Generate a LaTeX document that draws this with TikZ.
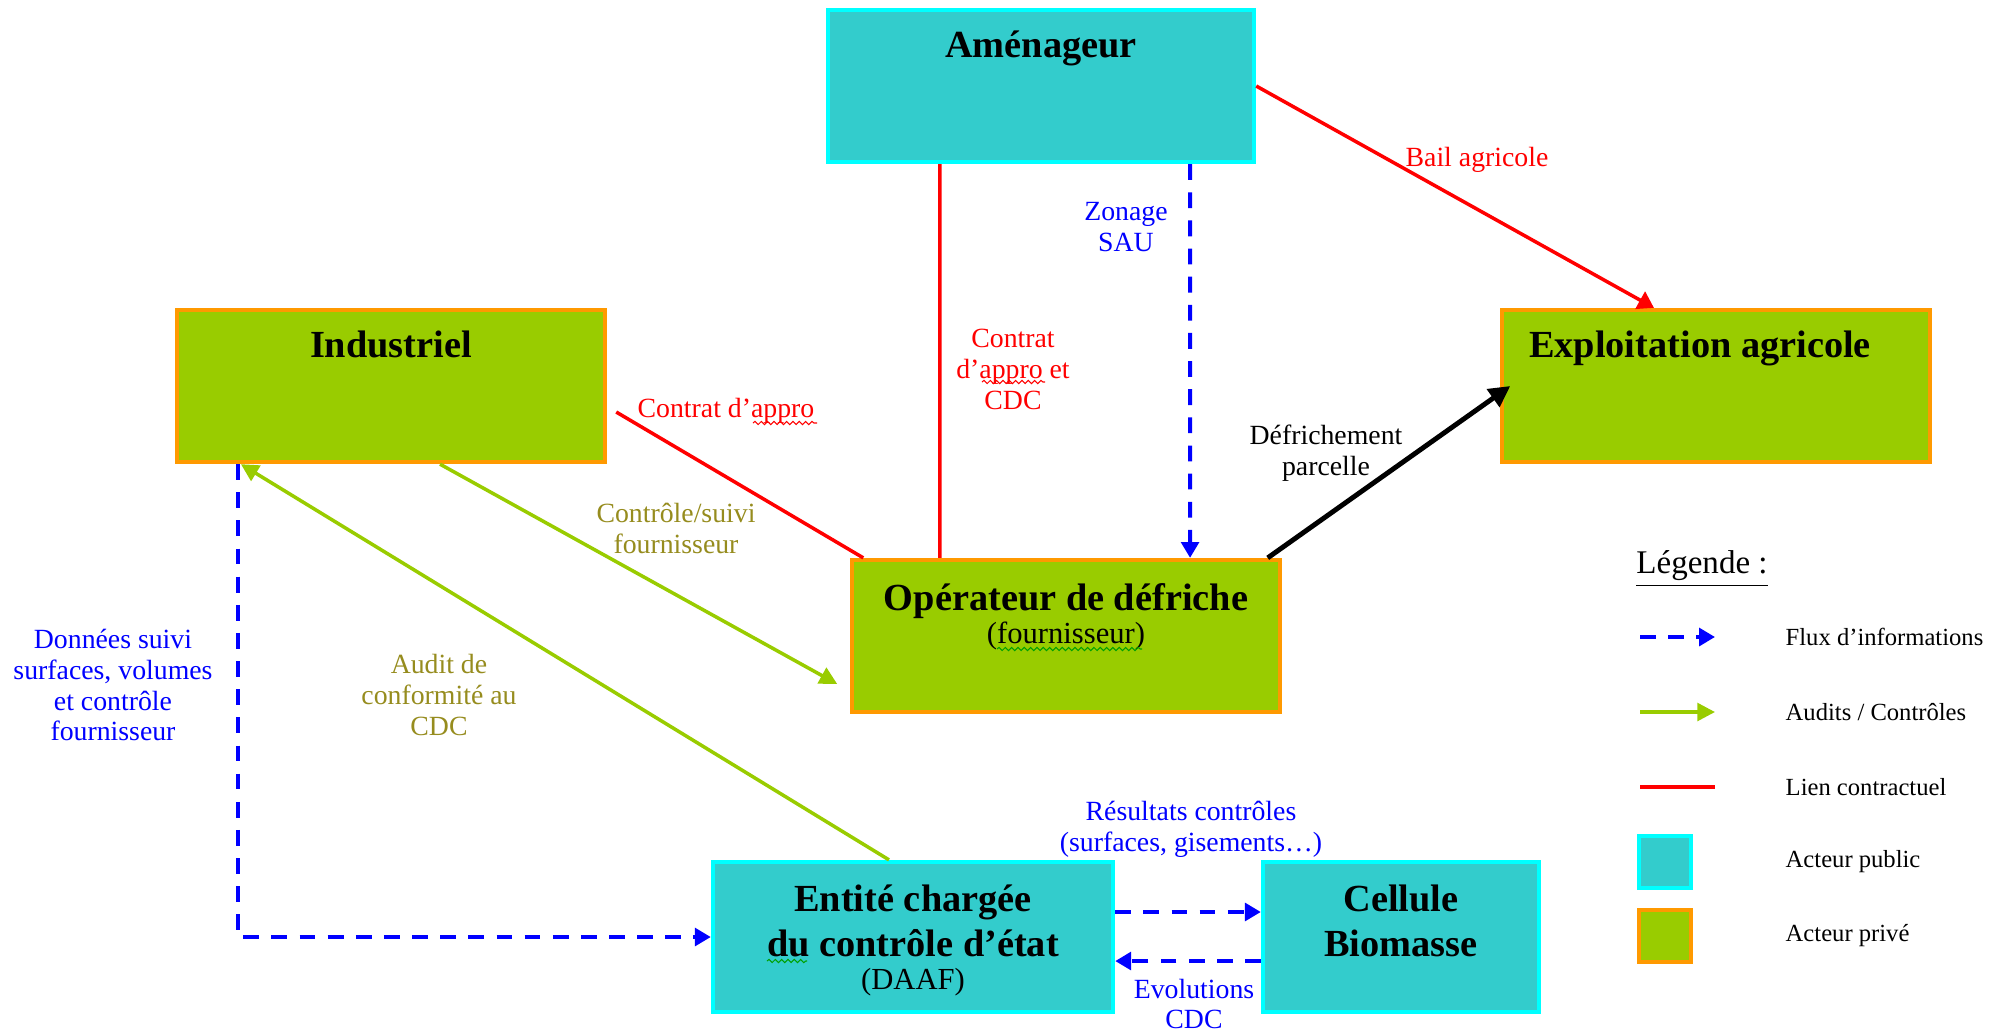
\documentclass[tikz,border=0pt]{standalone}
\usepackage{fontspec}
\setmainfont{Liberation Serif}
\usetikzlibrary{arrows.meta,positioning,decorations.pathmorphing}
\definecolor{pubfill}{RGB}{51,204,204}
\definecolor{publine}{RGB}{0,255,255}
\definecolor{privfill}{RGB}{153,204,0}
\definecolor{privline}{RGB}{255,153,0}
\definecolor{olivetxt}{RGB}{150,140,30}
\definecolor{spellgreen}{RGB}{0,160,0}
\tikzset{
    pubbox/.style={draw=publine,fill=pubfill,line width=1.2pt,inner sep=0pt},
    privbox/.style={draw=privline,fill=privfill,line width=1.2pt,inner sep=0pt},
    titre/.style={font=\fontsize{10.9}{12.8}\selectfont\bfseries,align=center,inner sep=0pt},
    sous/.style={font=\fontsize{8.7}{10}\selectfont,inner sep=0pt},
    lbl/.style={font=\fontsize{7.9}{8.8}\selectfont,align=center,inner sep=0pt},
    leg/.style={font=\fontsize{7}{8}\selectfont,anchor=west,inner sep=0pt},
    info/.style={draw=blue,line width=1.1pt,dash pattern=on 4.5pt off 3.5pt,-{Triangle[length=4.5pt,width=5pt]}},
    audit/.style={draw=privfill,line width=1pt,-{Triangle[length=5pt,width=5pt]}},
    contrat/.style={draw=red,line width=1pt},
    wavy/.style={line width=0.3pt,decorate,decoration={snake,amplitude=0.45pt,segment length=1.8pt}}
}
\begin{document}
\begin{tikzpicture}[x=0.01cm,y=-0.01cm]
        \useasboundingbox (0,0) rectangle (2011,1032);

        \node[pubbox,minimum width=4.26cm,minimum height=1.52cm] (amen) at (1041,86) {};
        \node[privbox,minimum width=4.28cm,minimum height=1.52cm] (ind) at (391,386) {};
        \node[privbox,minimum width=4.27cm,minimum height=1.52cm] (expl) at (1716,386) {};
        \node[privbox,minimum width=4.27cm,minimum height=1.52cm] (oper) at (1066,636) {};
        \node[pubbox,minimum width=4.00cm,minimum height=1.50cm] (ent) at (913,937) {};
        \node[pubbox,minimum width=2.76cm,minimum height=1.50cm] (cell) at (1401,937) {};

        \node[titre] (amen-t) at (1041,48) {Aménageur};
        \node[titre] (ind-t) at (391,344) {Industriel};
        \node[titre] (expl-t) at (1700,348) {Exploitation agricole};
        \node[titre] (oper-t) at (1066,601) {Opérateur de défriche};
        \node[sous] (oper-s) at (1066,636) {(fournisseur)};
        \node[titre] (ent-t) at (913,921) {Entité chargée\\du contrôle d’état};
        \node[sous] (ent-s) at (913,982) {(DAAF)};
        \node[titre] (cell-t) at (1401,921) {Cellule\\Biomasse};

        \draw[contrat,-{Triangle[length=4.5pt,width=5.5pt]}] (amen.east) -- ([xshift=-0.62cm]expl.north);
        \draw[contrat] ([xshift=-1.01cm]amen.south) -- ([xshift=-1.26cm]oper.north);
        \draw[info] ([xshift=1.49cm]amen.south) -- ([xshift=1.24cm]oper.north);
        \draw[contrat] ([xshift=0.09cm,yshift=-0.26cm]ind.east) -- ([xshift=0.13cm]oper.north west);
        \draw[audit] ([xshift=0.49cm]ind.south) -- ([xshift=-0.13cm,yshift=-0.48cm]oper.west);
        \draw[audit] ([xshift=-0.24cm]ent.north) -- ([xshift=-1.50cm]ind.south);
        \draw[info] ([xshift=-1.53cm]ind.south) |- (ent.west);
        \draw[line width=1.4pt,-{Triangle[length=6pt,width=6pt]}] ([xshift=-0.14cm]oper.north east) -- ([xshift=0.1cm]expl.west);
        \draw[info] ([yshift=0.25cm]ent.east) -- ([yshift=0.25cm]cell.west);
        \draw[info] ([yshift=-0.24cm]cell.west) -- ([yshift=-0.24cm]ent.east);

        \node[lbl,text=red] (bail) at (1477,160) {Bail agricole};
        \node[lbl,text=red] (ctr-cdc) at (1013,369) {Contrat\\d’appro et\\CDC};
        \node[lbl,text=blue] (zonage) at (1126,227) {Zonage\\SAU};
        \node[lbl,text=red] (ctr-app) at (726,411) {Contrat d’appro};
        \node[lbl,text=olivetxt] (suivi) at (676,528) {Contrôle/suivi\\fournisseur};
        \node[lbl,text=olivetxt] (audit-cdc) at (439,695) {Audit de\\conformité au\\CDC};
        \node[lbl,text=blue] (donnees) at (113,685) {Données suivi\\surfaces, volumes\\et contrôle\\fournisseur};
        \node[lbl] (defr) at (1326,453) {Défrichement\\parcelle};
        \node[lbl,text=blue] (result) at (1191,829) {Résultats contrôles\\(surfaces, gisements…)};
        \node[lbl,text=blue] (evol) at (1194,1004) {Evolutions\\CDC};

        \draw[wavy,red] (753,423) -- (817,423);
        \draw[wavy,red] (982,382) -- (1045,382);
        \draw[wavy,spellgreen] (997,649) -- (1142,649);
        \draw[wavy,spellgreen] (767,961) -- (807,961);

        \node[font=\fontsize{9.4}{11}\selectfont,inner sep=0pt] (leg-t) at (1702,569) {\underline{Légende :}};
        \coordinate (f1) at (1640,637);
        \coordinate (f2) at (1715,637);
        \coordinate (a1) at (1640,712);
        \coordinate (a2) at (1715,712);
        \coordinate (l1) at (1640,787);
        \coordinate (l2) at (1715,787);
        \draw[info] (f1) -- (f2);
        \draw[audit] (a1) -- (a2);
        \draw[contrat] (l1) -- (l2);
        \node[pubbox,minimum size=0.52cm] (sq-pub) at (1665,862) {};
        \node[privbox,minimum size=0.52cm] (sq-priv) at (1665,936) {};
        \node[leg] (leg-f) at (1785,637) {Flux d’informations};
        \node[leg] (leg-a) at (1785,712) {Audits / Contrôles};
        \node[leg] (leg-l) at (1785,787) {Lien contractuel};
        \node[leg] (leg-pub) at (1785,862) {Acteur public};
        \node[leg] (leg-priv) at (1785,936) {Acteur privé};
    \end{tikzpicture}
\end{document}
